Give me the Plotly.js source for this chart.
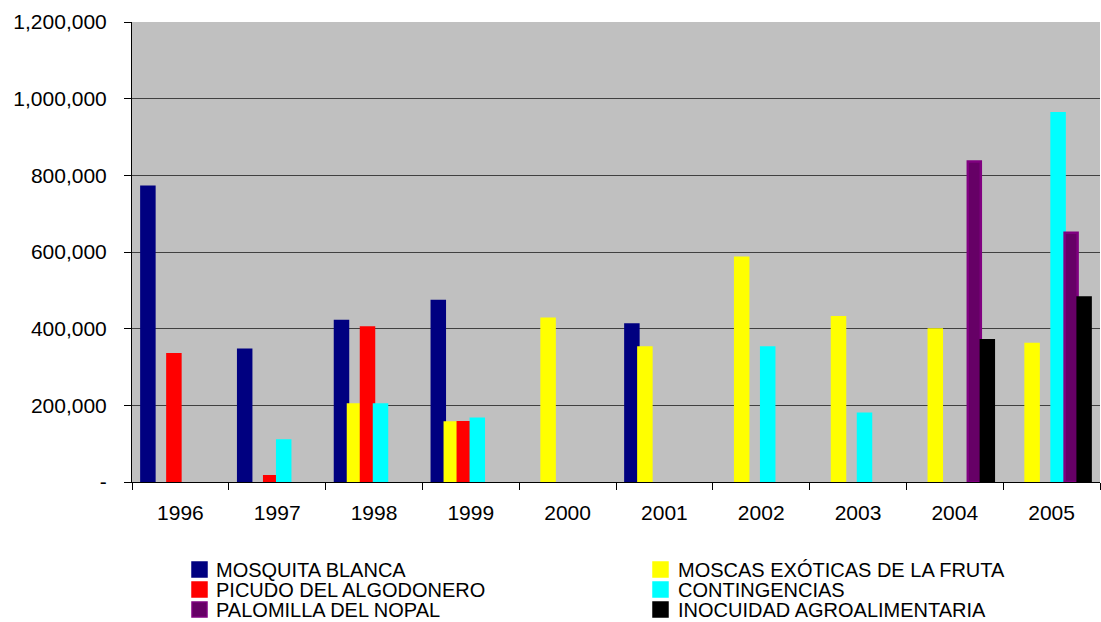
<!DOCTYPE html>
<html>
<head>
<meta charset="utf-8">
<script src="https://cdn.plot.ly/plotly-3.0.1.min.js"></script>
<style>html,body{margin:0;padding:0;background:#fff;}#chart{width:1101px;height:622px;}</style>
</head>
<body>
<div id="chart"></div>
<script>
var years = ['1996','1997','1998','1999','2000','2001','2002','2003','2004','2005'];
var seriesNames = ['MOSQUITA BLANCA','MOSCAS EXÓTICAS DE LA FRUTA','PICUDO DEL ALGODONERO','CONTINGENCIAS','PALOMILLA DEL NOPAL','INOCUIDAD AGROALIMENTARIA'];
var mosquitaBlanca = [770000, 345000, 420000, 472000, null, 411000, null, null, null, null];
var moscasExoticas = [null, null, 202000, 155000, 426000, 351000, 585000, 430000, 398000, 360000];
var picudoAlgodonero = [333000, 15000, 403000, 156000, null, null, null, null, null, null];
var contingencias = [null, 108000, 202000, 165000, null, null, 351000, 178000, null, 962000];
var palomillaNopal = [null, null, null, null, null, null, null, null, 836000, 650000];
var inocuidad = [null, null, null, null, null, null, null, null, 370000, 481000];
var yTickVals = [0, 200000, 400000, 600000, 800000, 1000000, 1200000];
var yTickText = ['-', '200,000', '400,000', '600,000', '800,000', '1,000,000', '1,200,000'];

var fills = ['#000080', '#FFFF00', '#FF0000', '#00FFFF', '#660066', '#000000'];
var borders = ['#000080', '#FFFF00', '#FF0000', '#00FFFF', '#800080', '#000000'];
var allValues = [mosquitaBlanca, moscasExoticas, picudoAlgodonero, contingencias, palomillaNopal, inocuidad];

var traces = allValues.map(function(vals, i) {
  return {
    type: 'bar',
    name: seriesNames[i],
    x: years,
    y: vals,
    marker: {color: fills[i], line: {color: borders[i], width: 2.5}},
    hoverinfo: 'x+y+name',
    showlegend: false
  };
});

// Plot area geometry (pixels) used to place the two-column legend.
var W = 1101, H = 622, mL = 132, mR = 1, mT = 22, mB = 140;
var plotW = W - mL - mR, plotH = H - mT - mB;
function px2x(px) { return (px - mL) / plotW; }
function py2y(py) { return (H - mB - py) / plotH; }

var colSwatchX = [192, 653];
var colTextX = [214, 676];
var rowY = [569.5, 589.5, 609.5];
var swatch = 15;

var annotations = [];
var shapes = [];
seriesNames.forEach(function(name, i) {
  var col = i % 2, row = Math.floor(i / 2);
  var cy = rowY[row];
  shapes.push({
    type: 'rect', xref: 'paper', yref: 'paper',
    x0: px2x(colSwatchX[col]), x1: px2x(colSwatchX[col] + swatch),
    y0: py2y(cy + swatch / 2), y1: py2y(cy - swatch / 2),
    fillcolor: fills[i], line: {color: borders[i], width: 1.5}
  });
  annotations.push({
    xref: 'paper', yref: 'paper',
    x: px2x(colTextX[col]), y: py2y(cy),
    xanchor: 'left', yanchor: 'middle',
    text: name, showarrow: false,
    font: {family: 'Liberation Sans, Arial, sans-serif', size: 20, color: '#000000'}
  });
});

var layout = {
  width: W,
  height: H,
  margin: {l: mL, r: mR, t: mT, b: mB},
  paper_bgcolor: '#FFFFFF',
  plot_bgcolor: '#C0C0C0',
  font: {family: 'Liberation Sans, Arial, sans-serif', size: 21, color: '#000000'},
  barmode: 'group',
  bargap: 0.194,
  bargroupgap: 0,
  showlegend: false,
  annotations: annotations,
  shapes: shapes,
  xaxis: {
    type: 'category',
    tickson: 'boundaries',
    ticks: 'outside',
    ticklen: 7,
    tickcolor: '#000000',
    tickwidth: 1,
    showline: true,
    linecolor: '#000000',
    linewidth: 1,
    showgrid: false,
    ticklabelstandoff: 12,
    tickfont: {size: 21}
  },
  yaxis: {
    range: [0, 1200000],
    tickvals: yTickVals,
    ticktext: yTickText,
    ticks: 'outside',
    ticklen: 7,
    tickcolor: '#000000',
    showline: true,
    linecolor: '#000000',
    linewidth: 1,
    showgrid: true,
    gridcolor: '#404040',
    gridwidth: 1,
    zeroline: false,
    ticklabelstandoff: 13,
    tickfont: {size: 21}
  }
};

Plotly.newPlot('chart', traces, layout, {displayModeBar: false, responsive: false});
</script>
</body>
</html>
